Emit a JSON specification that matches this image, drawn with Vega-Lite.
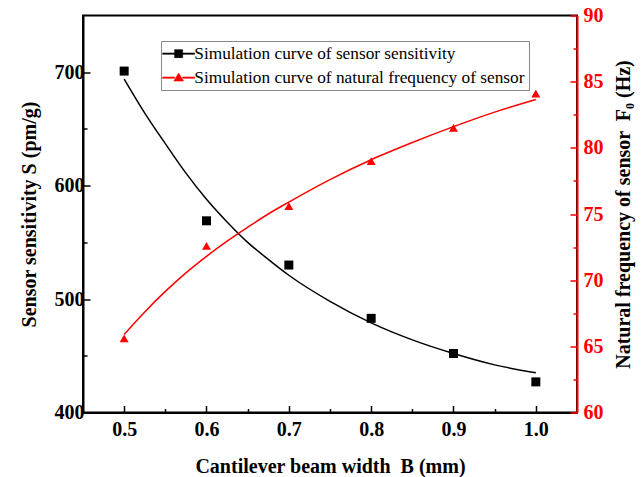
{
  "$schema": "https://vega.github.io/schema/vega-lite/v6.json",
  "width": 494,
  "height": 397,
  "autosize": {"type": "none"},
  "padding": {"left": 83, "top": 15.5, "right": 67, "bottom": 64.5},
  "background": "white",
  "config": {
    "font": "Liberation Serif",
    "view": {"stroke": "black", "strokeWidth": 2},
    "axis": {
      "labelFont": "Liberation Serif",
      "labelFontWeight": "bold",
      "labelFontSize": 20,
      "titleFont": "Liberation Serif",
      "titleFontWeight": "bold",
      "titleFontSize": 20,
      "titleColor": "black",
      "grid": false,
      "domainWidth": 2,
      "tickWidth": 1.5
    }
  },
  "datasets": {
    "points": [
      {"B": 0.5, "value": 701, "series": "Simulation curve of sensor sensitivity"},
      {"B": 0.6, "value": 569, "series": "Simulation curve of sensor sensitivity"},
      {"B": 0.7, "value": 530, "series": "Simulation curve of sensor sensitivity"},
      {"B": 0.8, "value": 483, "series": "Simulation curve of sensor sensitivity"},
      {"B": 0.9, "value": 452, "series": "Simulation curve of sensor sensitivity"},
      {"B": 1.0, "value": 427, "series": "Simulation curve of sensor sensitivity"},
      {"B": 0.5, "value": 65.6, "series": "Simulation curve of natural frequency of sensor"},
      {"B": 0.6, "value": 72.6, "series": "Simulation curve of natural frequency of sensor"},
      {"B": 0.7, "value": 75.6, "series": "Simulation curve of natural frequency of sensor"},
      {"B": 0.8, "value": 79.0, "series": "Simulation curve of natural frequency of sensor"},
      {"B": 0.9, "value": 81.5, "series": "Simulation curve of natural frequency of sensor"},
      {"B": 1.0, "value": 84.1, "series": "Simulation curve of natural frequency of sensor"}
    ],
    "curves": [
      {"B": 0.5, "value": 694, "series": "Simulation curve of sensor sensitivity"},
      {"B": 0.525, "value": 664, "series": "Simulation curve of sensor sensitivity"},
      {"B": 0.55, "value": 637, "series": "Simulation curve of sensor sensitivity"},
      {"B": 0.575, "value": 611, "series": "Simulation curve of sensor sensitivity"},
      {"B": 0.6, "value": 588, "series": "Simulation curve of sensor sensitivity"},
      {"B": 0.625, "value": 568, "series": "Simulation curve of sensor sensitivity"},
      {"B": 0.65, "value": 550, "series": "Simulation curve of sensor sensitivity"},
      {"B": 0.675, "value": 535, "series": "Simulation curve of sensor sensitivity"},
      {"B": 0.7, "value": 521, "series": "Simulation curve of sensor sensitivity"},
      {"B": 0.75, "value": 498, "series": "Simulation curve of sensor sensitivity"},
      {"B": 0.8, "value": 479, "series": "Simulation curve of sensor sensitivity"},
      {"B": 0.85, "value": 464, "series": "Simulation curve of sensor sensitivity"},
      {"B": 0.9, "value": 452, "series": "Simulation curve of sensor sensitivity"},
      {"B": 0.95, "value": 442, "series": "Simulation curve of sensor sensitivity"},
      {"B": 1.0, "value": 435, "series": "Simulation curve of sensor sensitivity"},
      {"B": 0.5, "value": 65.9, "series": "Simulation curve of natural frequency of sensor"},
      {"B": 0.525, "value": 67.6, "series": "Simulation curve of natural frequency of sensor"},
      {"B": 0.55, "value": 69.15, "series": "Simulation curve of natural frequency of sensor"},
      {"B": 0.575, "value": 70.55, "series": "Simulation curve of natural frequency of sensor"},
      {"B": 0.6, "value": 71.8, "series": "Simulation curve of natural frequency of sensor"},
      {"B": 0.625, "value": 72.95, "series": "Simulation curve of natural frequency of sensor"},
      {"B": 0.65, "value": 74.0, "series": "Simulation curve of natural frequency of sensor"},
      {"B": 0.675, "value": 75.0, "series": "Simulation curve of natural frequency of sensor"},
      {"B": 0.7, "value": 75.9, "series": "Simulation curve of natural frequency of sensor"},
      {"B": 0.75, "value": 77.6, "series": "Simulation curve of natural frequency of sensor"},
      {"B": 0.8, "value": 79.1, "series": "Simulation curve of natural frequency of sensor"},
      {"B": 0.85, "value": 80.4, "series": "Simulation curve of natural frequency of sensor"},
      {"B": 0.9, "value": 81.6, "series": "Simulation curve of natural frequency of sensor"},
      {"B": 0.95, "value": 82.7, "series": "Simulation curve of natural frequency of sensor"},
      {"B": 1.0, "value": 83.65, "series": "Simulation curve of natural frequency of sensor"}
    ]
  },
  "encoding": {
    "x": {
      "field": "B",
      "type": "quantitative",
      "scale": {"domain": [0.45, 1.05], "nice": false, "zero": false},
      "axis": {
        "title": "Cantilever beam width \u00a0B (mm)",
        "values": [0.5, 0.55, 0.6, 0.65, 0.7, 0.75, 0.8, 0.85, 0.9, 0.95, 1.0],
        "labelExpr": "abs(datum.value*10 - round(datum.value*10)) < 0.001 ? format(datum.value, '.1f') : ''",
        "tickSize": {"condition": {"test": "abs(datum.value*10 - round(datum.value*10)) < 0.001", "value": -7}, "value": -4},
        "labelPadding": 14,
        "titlePadding": 17,
        "domainColor": "black",
        "tickColor": "black",
        "labelColor": "black"
      }
    },
    "color": {
      "field": "series",
      "type": "nominal",
      "scale": {
        "domain": ["Simulation curve of sensor sensitivity", "Simulation curve of natural frequency of sensor"],
        "range": ["black", "#ff0000"]
      },
      "legend": {
        "title": null,
        "orient": "none",
        "legendX": 78,
        "legendY": 25.5,
        "direction": "vertical",
        "strokeColor": "#888888",
        "fillColor": "white",
        "padding": 4,
        "rowPadding": 6,
        "labelFont": "Liberation Serif",
        "labelFontSize": 17.3,
        "labelColor": "black",
        "labelLimit": 400,
        "symbolSize": 64,
        "symbolOffset": 5,
        "labelOffset": 7,
        "symbolStrokeWidth": 0.6,
        "symbolType": "square",
        "encode": {
          "symbols": {
            "update": {
              "shape": {"signal": "datum.value === 'Simulation curve of sensor sensitivity' ? 'M-4,-0.15H-1V0.15H-4ZM1,-0.15H4V0.15H1ZM-1,-1H1V1H-1Z' : 'M-4,-0.15H-1V0.15H-4ZM1,-0.15H4V0.15H1ZM0,-1.15L1.2,0.85H-1.2Z'"},
              "fill": {"signal": "datum.value === 'Simulation curve of sensor sensitivity' ? 'black' : '#ff0000'"},
              "stroke": {"signal": "datum.value === 'Simulation curve of sensor sensitivity' ? 'black' : '#ff0000'"},
              "strokeWidth": {"value": 0.6},
              "strokeOpacity": {"value": 1},
              "opacity": {"value": 1},
              "fillOpacity": {"value": 1}
            }
          }
        }
      }
    }
  },
  "layer": [
    {
      "encoding": {
        "y": {
          "field": "value",
          "type": "quantitative",
          "scale": {"domain": [400, 750], "nice": false, "zero": false},
          "axis": {
            "orient": "left",
            "title": "Sensor sensitivity S (pm/g)",
            "values": [400, 450, 500, 550, 600, 650, 700],
            "labelExpr": "datum.value % 100 === 0 ? datum.value : ''",
            "tickSize": {"condition": {"test": "datum.value % 100 === 0", "value": -7}, "value": -4},
            "labelPadding": 6,
            "titlePadding": 15,
            "domainColor": "black",
            "tickColor": "black",
            "labelColor": "black"
          }
        }
      },
      "layer": [
        {
          "data": {"name": "curves"},
          "transform": [{"filter": "datum.series === 'Simulation curve of sensor sensitivity'"}],
          "mark": {"type": "line", "interpolate": "monotone", "strokeWidth": 1.5}
        },
        {
          "data": {"name": "points"},
          "transform": [{"filter": "datum.series === 'Simulation curve of sensor sensitivity'"}],
          "mark": {"type": "point", "shape": "square", "filled": true, "opacity": 1, "size": 81}
        }
      ]
    },
    {
      "encoding": {
        "y": {
          "field": "value",
          "type": "quantitative",
          "scale": {"domain": [60, 90], "nice": false, "zero": false},
          "axis": {
            "orient": "right",
            "title": "Natural frequency of sensor \u00a0F₀ (Hz)",
            "titleAngle": -90,
            "titleBaseline": "top",
            "values": [60, 62.5, 65, 67.5, 70, 72.5, 75, 77.5, 80, 82.5, 85, 87.5, 90],
            "labelExpr": "datum.value % 5 === 0 ? datum.value : ''",
            "tickSize": {"condition": {"test": "datum.value % 5 === 0", "value": -7}, "value": -4},
            "labelPadding": 13,
            "titlePadding": 10,
            "domainColor": "#ff0000",
            "tickColor": "#ff0000",
            "labelColor": "#ff0000"
          }
        }
      },
      "layer": [
        {
          "data": {"name": "curves"},
          "transform": [{"filter": "datum.series === 'Simulation curve of natural frequency of sensor'"}],
          "mark": {"type": "line", "interpolate": "monotone", "strokeWidth": 1.5}
        },
        {
          "data": {"name": "points"},
          "transform": [{"filter": "datum.series === 'Simulation curve of natural frequency of sensor'"}],
          "mark": {"type": "point", "shape": "triangle-up", "filled": true, "opacity": 1, "size": 80}
        }
      ]
    }
  ],
  "resolve": {"scale": {"y": "independent"}}
}
